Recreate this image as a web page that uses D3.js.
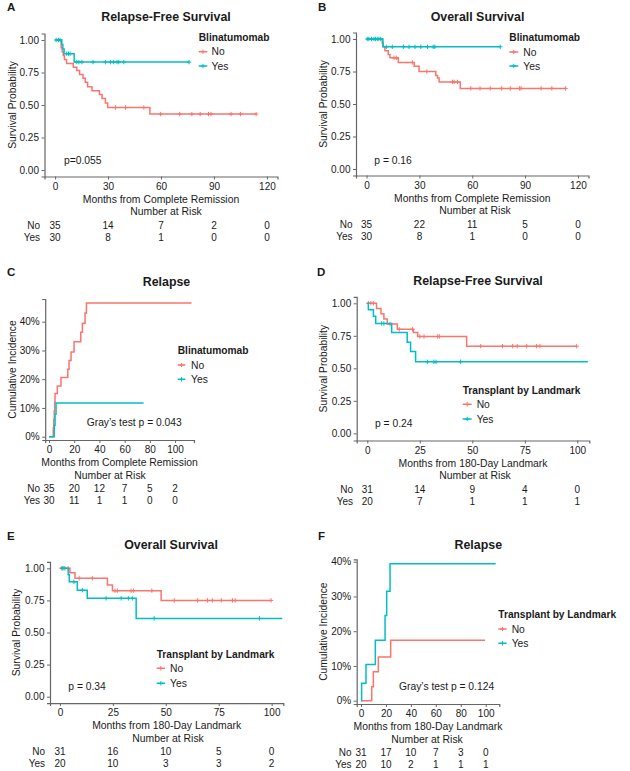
<!DOCTYPE html>
<html>
<head>
<meta charset="utf-8">
<script src="https://cdn.jsdelivr.net/npm/d3@7"></script>
<style>
body { margin: 0; background: #fff; }
text { font-family: "Liberation Sans", Arial, sans-serif; fill: #1a1a1a; }
</style>
</head>
<body>
<div id="chart"></div>
<script>
// ---- data ----
const groups = ["No", "Yes"];

// A: relapse-free survival by blinatumomab
const rfsBlinaNo = [[0,1],[3.4,0.94],[4,0.91],[4.6,0.88],[5.3,0.85],[6.5,0.82],[10.3,0.79],[12.3,0.765],[13.9,0.735],[15.8,0.705],[17.1,0.675],[18.4,0.64],[20.9,0.61],[25.1,0.58],[26.6,0.55],[28.5,0.515],[29.8,0.48],[53.7,0.43],[113.9,0.43]];
const rfsBlinaYes = [[0,1],[3.8,0.965],[4.4,0.93],[5.1,0.895],[10.8,0.83],[75.9,0.83]];
const rfsBlinaNoCens = [34.2,39.9,50.3,59.8,70.6,77.5,82.2,86.9,88.3,99.7,105,113.9];
const rfsBlinaYesCens = [0.6,1.9,2.8,6.6,7.6,8.5,12.3,13.5,15.2,21.5,28.5,31.3,33.2,35.1,36.1,38.9,75.9];

// B: overall survival by blinatumomab
const osBlinaNo = [[0,1],[8.9,0.97],[9.5,0.94],[10.4,0.91],[12.3,0.88],[13.3,0.855],[18,0.82],[27,0.79],[29.8,0.75],[39.3,0.72],[40.3,0.7],[41.2,0.67],[53.2,0.62],[113,0.62]];
const osBlinaYes = [[0,1],[9.3,0.94],[75.9,0.94]];
const osBlinaNoCens = [15.6,16.9,26,34.2,48.8,49.7,51.6,59.2,64.4,70.2,76.7,81.6,86.8,87.7,99.1,105.2,113];
const osBlinaYesCens = [0.4,1.3,2.8,4.2,5.1,6.1,7,8,11.2,14.6,20.9,24.1,27.5,30.8,34.6,37.8,38.7,75.9];

// C: cumulative incidence of relapse by blinatumomab
const relBlinaNo = [[0,0],[3.4,0.03],[3.8,0.06],[4.2,0.09],[4.5,0.12],[4.8,0.15],[6.6,0.176],[9.5,0.206],[14.9,0.235],[15.9,0.265],[17.5,0.295],[19.9,0.33],[25.2,0.363],[26.5,0.395],[28.6,0.43],[29.7,0.465],[113,0.465]];
const relBlinaYes = [[0,0],[4.2,0.039],[4.8,0.078],[5.6,0.117],[75,0.117]];

// D: relapse-free survival by transplant at landmark
const rfsTxNo = [[0,1],[4.4,0.96],[6.5,0.92],[7.9,0.88],[9.5,0.84],[14.3,0.8],[22,0.775],[24,0.745],[47.3,0.67],[99.7,0.67]];
const rfsTxYes = [[0,1],[0.5,0.95],[2.9,0.9],[4,0.845],[11.6,0.775],[19,0.7],[20.6,0.63],[23,0.55],[105,0.55]];
const rfsTxNoCens = [0.5,1.7,2.9,10.8,15.2,21.5,25,27,33.5,34.3,54,64.4,69.2,71.4,75.9,80.6,82.2,99.7];
const rfsTxYesCens = [6.8,7.9,28.6,31.7,32.7,44.4];

// E: overall survival by transplant at landmark
const osTxNo = [[0,1],[4.7,0.966],[7.1,0.922],[22.4,0.87],[24.8,0.826],[47.8,0.75],[99.7,0.75]];
const osTxYes = [[0,1],[3.9,0.95],[4.4,0.895],[8.2,0.83],[12.9,0.766],[36,0.61],[105,0.61]];
const osTxNoCens = [0.8,2.4,3.9,9.1,15.3,26,27.1,33.6,34.7,43.4,54,65,69.7,72,76.2,81.5,82.8,99.7];
const osTxYesCens = [1.3,1.9,6.6,10.6,21.8,28.9,32.3,34.2,44.5,94.2];

// F: cumulative incidence of relapse by transplant at landmark
const relTxNo = [[0,0],[8.6,0.04],[9.9,0.083],[13.9,0.126],[23.8,0.174],[99.5,0.174]];
const relTxYes = [[0,0],[0.5,0.05],[4,0.104],[11.5,0.174],[19.3,0.245],[20.6,0.315],[23.3,0.394],[108,0.394]];

// ticks
const ticksCR = [0, 30, 60, 90, 120];
const ticksCI = [0, 20, 40, 60, 80, 100];
const ticksLM = [0, 25, 50, 75, 100];
const survTicks = [0, 0.25, 0.5, 0.75, 1];
const ciTicks = [0, 0.1, 0.2, 0.3, 0.4];

// numbers at risk
const riskA = {No: [35, 14, 7, 2, 0], Yes: [30, 8, 1, 0, 0]};
const riskB = {No: [35, 22, 11, 5, 0], Yes: [30, 8, 1, 0, 0]};
const riskC = {No: [35, 20, 12, 7, 5, 2], Yes: [30, 11, 1, 1, 0, 0]};
const riskD = {No: [31, 14, 9, 4, 0], Yes: [20, 7, 1, 1, 1]};
const riskE = {No: [31, 16, 10, 5, 0], Yes: [20, 10, 3, 3, 2]};
const riskF = {No: [31, 17, 10, 7, 3, 0], Yes: [20, 10, 2, 1, 1, 1]};

// ---- layout ----
const width = 630, height = 771;
const colors = {No: "#F8766D", Yes: "#00BFC4"};

const svg = d3.select("#chart")
    .append("svg")
        .attr("width", width)
        .attr("height", height);

const panels = [
    {label: "A", lab: [7, 11], title: "Relapse-Free Survival", titleX: 166, titleY: 21,
     xd: [-6, 126], xr: [44.5, 277.5], yd: [-0.05, 1.05], yr: [176.5, 33.5],
     xt: ticksCR, yt: survTicks, yf: d3.format(".2f"), yTitle: "Survival Probability", yTitleX: 12,
     xTitle: "Months from Complete Remission",
     curves: {No: rfsBlinaNo, Yes: rfsBlinaYes}, cens: {No: rfsBlinaNoCens, Yes: rfsBlinaYesCens},
     legTitle: "Blinatumomab", legKey: [198.7, 207.3], legText: 211.5, legTitleY: 40.5, legRows: [51.7, 66],
     pText: "p=0.055", pX: 64, pY: 163.5, risk: riskA, rowX: 40, narX: 166},
    {label: "B", lab: [318, 11], title: "Overall Survival", titleX: 477.5, titleY: 21,
     xd: [-6, 126], xr: [356, 588.5], yd: [-0.05, 1.05], yr: [175.5, 32.5],
     xt: ticksCR, yt: survTicks, yf: d3.format(".2f"), yTitle: "Survival Probability", yTitleX: 323,
     xTitle: "Months from Complete Remission",
     curves: {No: osBlinaNo, Yes: osBlinaYes}, cens: {No: osBlinaNoCens, Yes: osBlinaYesCens},
     legTitle: "Blinatumomab", legKey: [509.3, 518.3], legText: 523.3, legTitleY: 40.5, legRows: [52, 66],
     pText: "p = 0.16", pX: 374.3, pY: 163.5, risk: riskB, rowX: 352.5, narX: 475},
    {label: "C", lab: [7, 276], title: "Relapse", titleX: 166.5, titleY: 285.5,
     xd: [-3, 115], xr: [45.2, 194], yd: [-0.0115, 0.479], yr: [440, 299],
     xt: ticksCI, yt: ciTicks, yf: d3.format(".0%"), yTitle: "Cumulative Incidence", yTitleX: 12,
     xTitle: "Months from Complete Remission",
     curves: {No: relBlinaNo, Yes: relBlinaYes}, cens: null,
     legTitle: "Blinatumomab", legKey: [177.7, 185.3], legText: 191, legTitleY: 353.7, legRows: [365, 379.3],
     pText: "Gray\u2019s test p = 0.043", pX: 86.7, pY: 426, risk: riskC, rowX: 40, narX: 110},
    {label: "D", lab: [317, 276], title: "Relapse-Free Survival", titleX: 478, titleY: 285,
     xd: [-5.05, 105.7], xr: [356.7, 589.3], yd: [-0.055, 1.05], yr: [440.5, 296.8],
     xt: ticksLM, yt: survTicks, yf: d3.format(".2f"), yTitle: "Survival Probability", yTitleX: 323.3,
     xTitle: "Months from 180-Day Landmark",
     curves: {No: rfsTxNo, Yes: rfsTxYes}, cens: {No: rfsTxNoCens, Yes: rfsTxYesCens},
     legTitle: "Transplant by Landmark", legKey: [462.7, 471.7], legText: 476.7, legTitleY: 394, legRows: [404.3, 419],
     pText: "p = 0.24", pX: 375, pY: 427, risk: riskD, rowX: 353, narX: 475},
    {label: "E", lab: [7, 540], title: "Overall Survival", titleX: 171, titleY: 549,
     xd: [-4.7, 105.5], xr: [50, 283.3], yd: [-0.05, 1.05], yr: [703.1, 561.9],
     xt: ticksLM, yt: survTicks, yf: d3.format(".2f"), yTitle: "Survival Probability", yTitleX: 16.7,
     xTitle: "Months from 180-Day Landmark",
     curves: {No: osTxNo, Yes: osTxYes}, cens: {No: osTxNoCens, Yes: osTxYesCens},
     legTitle: "Transplant by Landmark", legKey: [156.7, 165], legText: 170, legTitleY: 657.7, legRows: [668.3, 683.3],
     pText: "p = 0.34", pX: 68.3, pY: 690, risk: riskE, rowX: 45, narX: 168},
    {label: "F", lab: [318, 540], title: "Relapse", titleX: 478.3, titleY: 549,
     xd: [-3.45, 110.9], xr: [356.7, 499.3], yd: [-0.0095, 0.407], yr: [704, 559.3],
     xt: ticksCI, yt: ciTicks, yf: d3.format(".0%"), yTitle: "Cumulative Incidence", yTitleX: 323.3,
     xTitle: "Months from 180-Day Landmark",
     curves: {No: relTxNo, Yes: relTxYes}, cens: null,
     legTitle: "Transplant by Landmark", legKey: [498.3, 506.7], legText: 511.7, legTitleY: 618.3, legRows: [629, 643.3],
     pText: "Gray\u2019s test p = 0.124", pX: 399, pY: 690, risk: riskF, rowX: 351.5, narX: 427}
];

function stepValue(curve, t) {
    let v = curve[0][1];
    curve.forEach(function(p) { if (p[0] <= t) v = p[1]; });
    return v;
}

function plusPath(x, y, r) {
    return "M" + x + "," + (y - r) + "V" + (y + r) + "M" + (x - r) + "," + y + "H" + (x + r);
}

panels.forEach(function(p) {
    const g = svg.append("g");
    const xScale = d3.scaleLinear().domain(p.xd).range(p.xr);
    const yScale = d3.scaleLinear().domain(p.yd).range(p.yr);
    const axisY = p.yr[0];

    // panel letter + title
    g.append("text").attr("x", p.lab[0]).attr("y", p.lab[1])
        .attr("font-size", 11.5).attr("font-weight", "bold").text(p.label);
    g.append("text").attr("x", p.titleX).attr("y", p.titleY)
        .attr("text-anchor", "middle").attr("font-size", 12.4).attr("font-weight", "bold").text(p.title);

    // axes
    const xAxis = g.append("g")
        .attr("transform", "translate(0," + axisY + ")")
        .call(d3.axisBottom(xScale).tickValues(p.xt).tickSizeOuter(0).tickSize(3).tickPadding(3));
    const yAxis = g.append("g")
        .attr("transform", "translate(" + p.xr[0] + ",0)")
        .call(d3.axisLeft(yScale).tickValues(p.yt).tickFormat(p.yf).tickSizeOuter(0).tickSize(3).tickPadding(2.5));
    [xAxis, yAxis].forEach(function(a) {
        a.select(".domain").attr("stroke", "#666").attr("stroke-width", 1.2);
        a.selectAll(".tick line").attr("stroke", "#666").attr("stroke-width", 1);
        a.selectAll(".tick text").attr("font-size", 10).attr("fill", "#333")
            .attr("font-family", "'Liberation Sans', Arial, sans-serif");
    });

    // y-axis title
    g.append("text")
        .attr("transform", "translate(" + p.yTitleX + "," + ((p.yr[0] + p.yr[1]) / 2) + ") rotate(-90)")
        .attr("text-anchor", "middle").attr("dy", "0.35em").attr("font-size", 10.3).text(p.yTitle);

    // curves
    const line = d3.line()
        .x(function(d) { return xScale(d[0]); })
        .y(function(d) { return yScale(d[1]); })
        .curve(d3.curveStepAfter);

    groups.forEach(function(k) {
        g.append("path")
            .datum(p.curves[k])
            .attr("fill", "none")
            .attr("stroke", colors[k])
            .attr("stroke-width", 1.5)
            .attr("d", line);
        if (p.cens) {
            g.selectAll(null)
                .data(p.cens[k])
                .enter().append("path")
                    .attr("d", function(t) { return plusPath(xScale(t), yScale(stepValue(p.curves[k], t)), 2.2); })
                    .attr("stroke", colors[k])
                    .attr("stroke-width", 1)
                    .attr("fill", "none");
        }
    });

    // legend
    g.append("text").attr("x", p.legKey[0]).attr("y", p.legTitleY)
        .attr("font-size", 10.2).attr("font-weight", "bold").text(p.legTitle);
    groups.forEach(function(k, i) {
        const ry = p.legRows[i];
        const mid = (p.legKey[0] + p.legKey[1]) / 2;
        g.append("line")
            .attr("x1", p.legKey[0]).attr("x2", p.legKey[1])
            .attr("y1", ry).attr("y2", ry)
            .attr("stroke", colors[k]).attr("stroke-width", 1.5);
        g.append("path").attr("d", plusPath(mid, ry, 2.2))
            .attr("stroke", colors[k]).attr("stroke-width", 1).attr("fill", "none");
        g.append("text").attr("x", p.legText).attr("y", ry + 3.7)
            .attr("font-size", 10.3).text(k);
    });

    // p value
    g.append("text").attr("x", p.pX).attr("y", p.pY).attr("font-size", 10.3).text(p.pText);

    // x title + risk table
    g.append("text").attr("x", (p.xr[0] + p.xr[1]) / 2).attr("y", axisY + 26)
        .attr("text-anchor", "middle").attr("font-size", 10.4).text(p.xTitle);
    g.append("text").attr("x", p.narX).attr("y", axisY + 38.6)
        .attr("text-anchor", "middle").attr("font-size", 10.4).text("Number at Risk");

    groups.forEach(function(k, i) {
        const ry = axisY + 52.3 + i * 11.8;
        g.append("text").attr("x", p.rowX).attr("y", ry)
            .attr("text-anchor", "end").attr("font-size", 10).text(k);
        g.selectAll(null)
            .data(p.risk[k])
            .enter().append("text")
                .attr("x", function(d, j) { return xScale(p.xt[j]); })
                .attr("y", ry)
                .attr("text-anchor", "middle")
                .attr("font-size", 10)
                .text(function(d) { return d; });
    });
});
</script>
</body>
</html>
